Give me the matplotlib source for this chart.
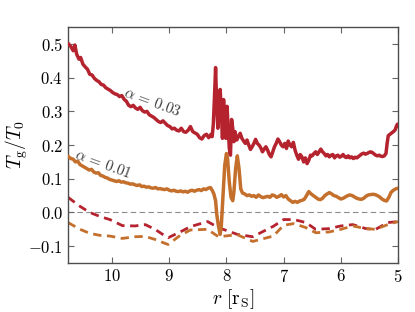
import matplotlib
matplotlib.use("Agg")
import matplotlib.pyplot as plt
import numpy as np

plt.rcParams.update({
    'font.family': 'serif',
    'font.serif': ['cmr10', 'DejaVu Serif'],
    'mathtext.fontset': 'cm',
    'axes.formatter.use_mathtext': True,
    'axes.unicode_minus': True,
})

# alpha = 0.03 (solid, red)
r_a03 = [10.76, 10.72, 10.68, 10.65, 10.62, 10.58, 10.55, 10.51, 10.47, 10.43,
         10.39, 10.35, 10.31, 10.27, 10.23, 10.19, 10.15, 10.11, 10.07, 10.03,
         9.99, 9.95, 9.91, 9.87, 9.83, 9.79, 9.75, 9.71, 9.67, 9.63,
         9.59, 9.55, 9.51, 9.47, 9.43, 9.39, 9.35, 9.31, 9.27, 9.23,
         9.19, 9.15, 9.11, 9.07, 9.03, 8.99, 8.95, 8.91, 8.87, 8.83,
         8.79, 8.75, 8.71, 8.67, 8.63, 8.59, 8.55, 8.51, 8.47, 8.43,
         8.39, 8.35, 8.31, 8.27, 8.25, 8.23, 8.21, 8.19, 8.17, 8.15,
         8.13, 8.11, 8.09, 8.07, 8.05, 8.03, 8.01, 7.99, 7.97, 7.95,
         7.93, 7.91, 7.89, 7.87, 7.85, 7.82, 7.79, 7.76, 7.73, 7.70,
         7.67, 7.64, 7.61, 7.58, 7.55, 7.52, 7.49, 7.46, 7.43, 7.40,
         7.37, 7.34, 7.31, 7.28, 7.25, 7.22, 7.19, 7.16, 7.13, 7.10,
         7.07, 7.04, 7.01, 6.98, 6.95, 6.92, 6.89, 6.86, 6.83, 6.80,
         6.77, 6.74, 6.71, 6.68, 6.65, 6.62, 6.59, 6.56, 6.53, 6.50,
         6.47, 6.44, 6.41, 6.38, 6.35, 6.32, 6.29, 6.26, 6.23, 6.20,
         6.17, 6.14, 6.11, 6.08, 6.05, 6.02, 5.99, 5.96, 5.93, 5.90,
         5.87, 5.84, 5.81, 5.78, 5.75, 5.72, 5.69, 5.66, 5.63, 5.60,
         5.57, 5.54, 5.51, 5.48, 5.45, 5.42, 5.39, 5.36, 5.33, 5.30,
         5.27, 5.24, 5.21, 5.19, 5.17, 5.14, 5.11, 5.08, 5.05, 5.03,
         5.01, 5.00]
T_a03 = [0.500, 0.492, 0.480, 0.497, 0.470, 0.455, 0.460, 0.440, 0.432, 0.425,
         0.410, 0.408, 0.398, 0.392, 0.388, 0.380, 0.378, 0.370, 0.366, 0.362,
         0.356, 0.352, 0.350, 0.344, 0.347, 0.336, 0.330, 0.318, 0.314, 0.318,
         0.310, 0.306, 0.312, 0.302, 0.298, 0.300, 0.290, 0.286, 0.282, 0.276,
         0.270, 0.267, 0.272, 0.265, 0.258, 0.255, 0.248, 0.250, 0.244, 0.242,
         0.250, 0.240, 0.238, 0.244, 0.255, 0.240, 0.236, 0.232, 0.222, 0.218,
         0.228, 0.232, 0.222, 0.232, 0.225, 0.260, 0.340, 0.430, 0.320, 0.250,
         0.300, 0.365, 0.300, 0.220, 0.335, 0.260, 0.220, 0.315, 0.250, 0.190,
         0.170, 0.276, 0.250, 0.210, 0.240, 0.215, 0.225, 0.235, 0.220, 0.212,
         0.205, 0.215, 0.200, 0.187, 0.195, 0.205, 0.217, 0.205, 0.200, 0.192,
         0.180, 0.188, 0.195, 0.185, 0.172, 0.165, 0.180, 0.195, 0.205, 0.218,
         0.210, 0.200, 0.195, 0.205, 0.190, 0.212, 0.200, 0.195, 0.208, 0.185,
         0.170, 0.158, 0.172, 0.165, 0.150, 0.162, 0.145, 0.155, 0.170, 0.168,
         0.175, 0.180, 0.172, 0.180, 0.188, 0.180, 0.175, 0.168, 0.172, 0.165,
         0.170, 0.172, 0.162, 0.168, 0.170, 0.164, 0.167, 0.172, 0.165, 0.163,
         0.168, 0.162, 0.165, 0.160, 0.164, 0.162, 0.166, 0.170, 0.174, 0.176,
         0.173, 0.175, 0.178, 0.180, 0.178, 0.174, 0.170, 0.168, 0.170, 0.167,
         0.166, 0.168, 0.175, 0.205, 0.228, 0.232, 0.236, 0.240, 0.245, 0.255,
         0.262, 0.258]

# alpha = 0.01 (solid, orange)
r_a01 = [10.76, 10.72, 10.68, 10.64, 10.60, 10.56, 10.52, 10.48, 10.44, 10.40,
         10.36, 10.32, 10.28, 10.24, 10.20, 10.16, 10.12, 10.08, 10.04, 10.00,
         9.96, 9.92, 9.88, 9.84, 9.80, 9.76, 9.72, 9.68, 9.64, 9.60,
         9.56, 9.52, 9.48, 9.44, 9.40, 9.36, 9.32, 9.28, 9.24, 9.20,
         9.16, 9.12, 9.08, 9.04, 9.00, 8.96, 8.92, 8.88, 8.84, 8.80,
         8.76, 8.72, 8.68, 8.64, 8.60, 8.56, 8.52, 8.48, 8.44, 8.40,
         8.36, 8.32, 8.28, 8.25, 8.22, 8.19, 8.17, 8.14, 8.11, 8.09,
         8.06, 8.03, 8.00, 7.98, 7.95, 7.92, 7.89, 7.87, 7.84, 7.81,
         7.78, 7.75, 7.72, 7.68, 7.64, 7.60, 7.56, 7.52, 7.48, 7.44,
         7.40, 7.36, 7.32, 7.28, 7.24, 7.20, 7.16, 7.12, 7.08, 7.04,
         7.00, 6.96, 6.92, 6.88, 6.84, 6.80, 6.76, 6.72, 6.68, 6.64,
         6.60, 6.56, 6.52, 6.48, 6.44, 6.40, 6.36, 6.32, 6.28, 6.24,
         6.20, 6.16, 6.12, 6.08, 6.04, 6.00, 5.96, 5.92, 5.88, 5.84,
         5.80, 5.76, 5.72, 5.68, 5.64, 5.60, 5.56, 5.52, 5.48, 5.44,
         5.40, 5.36, 5.32, 5.28, 5.24, 5.20, 5.16, 5.12, 5.08, 5.04,
         5.00]
T_a01 = [0.165, 0.160, 0.158, 0.150, 0.152, 0.142, 0.138, 0.134, 0.130, 0.126,
         0.128, 0.120, 0.117, 0.118, 0.110, 0.108, 0.104, 0.102, 0.098, 0.096,
         0.094, 0.092, 0.094, 0.090, 0.091, 0.088, 0.087, 0.084, 0.085, 0.082,
         0.080, 0.082, 0.077, 0.078, 0.075, 0.076, 0.073, 0.072, 0.074, 0.070,
         0.071, 0.069, 0.068, 0.070, 0.066, 0.064, 0.066, 0.063, 0.062, 0.064,
         0.061, 0.063, 0.060, 0.064, 0.066, 0.063, 0.066, 0.068, 0.065, 0.070,
         0.068, 0.072, 0.074, 0.066, 0.055, 0.035, -0.005, -0.040, -0.065, -0.040,
         0.050, 0.140, 0.175, 0.160, 0.090, 0.045, 0.035, 0.060, 0.130, 0.168,
         0.130, 0.070, 0.058, 0.055, 0.050, 0.052, 0.048, 0.050, 0.045, 0.052,
         0.047, 0.044, 0.046, 0.048, 0.045, 0.052, 0.050, 0.045, 0.048, 0.053,
         0.046, 0.050, 0.040, 0.035, 0.030, 0.033, 0.030, 0.034, 0.036, 0.039,
         0.050, 0.062, 0.055, 0.050, 0.045, 0.040, 0.038, 0.042, 0.050, 0.055,
         0.059, 0.055, 0.050, 0.048, 0.044, 0.040, 0.042, 0.046, 0.050, 0.052,
         0.050, 0.046, 0.042, 0.040, 0.039, 0.042, 0.048, 0.052, 0.053, 0.054,
         0.053, 0.050, 0.046, 0.040, 0.036, 0.034, 0.045, 0.060, 0.066, 0.070,
         0.072]

# dashed reference curves
r_dash = [10.77, 10.56, 10.39, 10.21, 10.04, 9.82, 9.60, 9.42, 9.25, 9.07,
          9.02, 8.81, 8.63, 8.33, 8.14, 7.81, 7.54, 7.18, 7.00, 6.82,
          6.61, 6.44, 6.21, 6.00, 5.79, 5.56, 5.39, 5.18, 5.00]
T_dash_a03 = [0.045, 0.018, 0.000, -0.012, -0.021, -0.039, -0.040, -0.036, -0.050, -0.070,
              -0.075, -0.058, -0.042, -0.027, -0.045, -0.065, -0.072, -0.041, -0.021, -0.021,
              -0.030, -0.050, -0.048, -0.040, -0.036, -0.048, -0.050, -0.030, -0.027]
T_dash_a01 = [-0.030, -0.050, -0.062, -0.068, -0.070, -0.077, -0.072, -0.071, -0.080, -0.092,
              -0.095, -0.068, -0.052, -0.050, -0.072, -0.066, -0.086, -0.070, -0.038, -0.033,
              -0.045, -0.060, -0.058, -0.050, -0.040, -0.048, -0.050, -0.036, -0.027]

red = '#b5232f'
orange = '#c4702c'

fig = plt.figure(figsize=(4.15, 3.12), dpi=100)
ax = fig.add_axes([0.164, 0.157, 0.795, 0.756])

ax.axhline(0.0, color='0.55', lw=0.8, ls=(0, (5, 3)), zorder=1)
ax.plot(r_dash, T_dash_a03, color=red, lw=2.0, ls=(0, (3, 2)), zorder=2)
ax.plot(r_dash, T_dash_a01, color=orange, lw=2.0, ls=(0, (3, 2)), zorder=2)
ax.plot(r_a01, T_a01, color=orange, lw=2.5, zorder=3)
ax.plot(r_a03, T_a03, color=red, lw=2.5, zorder=4)

ax.text(9.30, 0.326, r'$\alpha\, =\, 0.03$', rotation=-20, fontsize=11,
        ha='center', va='center', color='0.25')
ax.text(10.15, 0.143, r'$\alpha\, =\, 0.01$', rotation=-20, fontsize=11,
        ha='center', va='center', color='0.25')

ax.set_xlim(10.77, 5.0)
ax.set_ylim(-0.15, 0.55)
ax.set_xticks([10, 9, 8, 7, 6, 5])
ax.set_yticks([-0.1, 0.0, 0.1, 0.2, 0.3, 0.4, 0.5])
ax.tick_params(direction='in', top=True, right=True, length=4, width=0.8,
               color='0.4', labelsize=12)
for s in ax.spines.values():
    s.set_color('0.3')
    s.set_linewidth(1.0)

ax.set_xlabel(r'$r\ [\rm r_S]$', fontsize=14, labelpad=2)
ax.set_ylabel(r'$T_{\rm g}/T_0$', fontsize=14)
ax.yaxis.set_label_coords(-0.115, 0.5)

fig.savefig('out.png', dpi=100)
